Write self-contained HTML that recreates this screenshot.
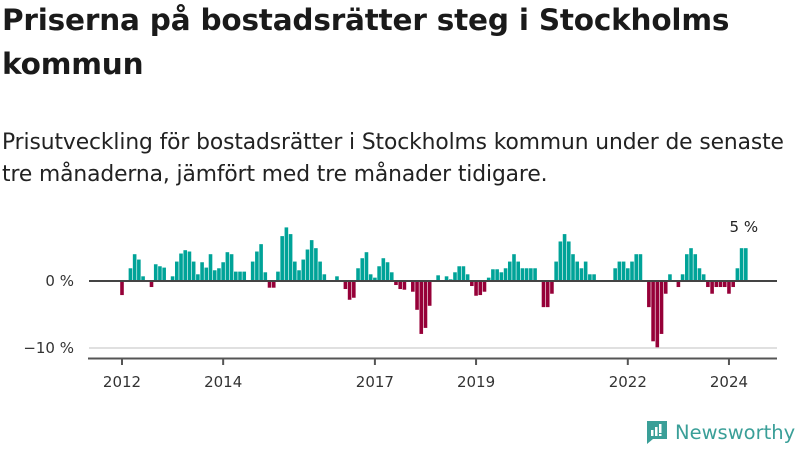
<!DOCTYPE html>
<html><head><meta charset="utf-8">
<style>
body{margin:0;background:#fff;width:800px;height:450px;overflow:hidden;font-family:"DejaVu Sans","Liberation Sans",sans-serif;color:#1a1a1a;position:relative}
h1{position:absolute;left:2px;top:-2px;margin:0;font-size:29.5px;line-height:44px;font-weight:bold;width:780px;letter-spacing:-0.2px}
p{position:absolute;left:2px;top:127px;margin:0;font-size:21.8px;line-height:32px;width:790px;color:#222;letter-spacing:-0.1px}
svg{position:absolute;left:0;top:0}
</style></head><body>
<h1>Priserna på bostadsrätter steg i Stockholms kommun</h1>
<p>Prisutveckling för bostadsrätter i Stockholms kommun under de senaste tre månaderna, jämfört med tre månader tidigare.</p>
<svg id="chart" width="800" height="450"></svg>
<div style="position:absolute;left:645px;top:419px;display:flex;align-items:center;">
<svg width="24" height="26" viewBox="0 0 24 26" style="position:static"><path d="M2 2h20v18H8l-6 5z" fill="#3a9f98"/><rect x="6" y="11" width="2.5" height="6" fill="#fff"/><rect x="10" y="8" width="2.5" height="9" fill="#fff"/><rect x="14" y="5" width="2.5" height="9" fill="#fff"/><rect x="14" y="15" width="2.5" height="2" fill="#fff"/></svg>
<span style="font-size:19.5px;color:#3a9f98;margin-left:6px">Newsworthy</span></div>
<script>
const months = [];
const values = [-2.1,0,1.9,4.0,3.2,0.7,0,-0.9,2.5,2.2,2.0,0,
0.7,2.9,4.1,4.6,4.4,2.9,1.0,2.8,2.0,4.0,1.6,1.9,
2.8,4.3,4.0,1.4,1.4,1.4,0,2.9,4.4,5.5,1.3,-1.0,
-1.0,1.4,6.7,8.0,7.0,2.9,1.6,3.2,4.7,6.1,4.9,2.9,
1.0,0,0,0.7,0,-1.2,-2.8,-2.5,1.9,3.4,4.3,1.0,
0.5,2.2,3.4,2.8,1.3,-0.6,-1.2,-1.3,-0.15,-1.6,-4.3,-7.9,
-7.0,-3.7,0,0.85,0,0.7,0.25,1.3,2.2,2.2,1.0,-0.75,
-2.2,-2.1,-1.6,0.5,1.75,1.75,1.3,1.9,2.9,4.0,2.9,1.9,
1.9,1.9,1.9,0,-3.9,-3.9,-1.9,2.9,5.9,7.0,5.9,4.0,
2.9,1.9,2.9,1.0,1.0,0,0,0,0,1.9,2.9,2.9,
1.9,2.9,4.0,4.0,0,-3.9,-9.0,-9.9,-7.9,-1.9,1.0,0,
-0.9,1.0,4.0,4.9,4.0,1.9,1.0,-0.9,-1.9,-0.9,-0.9,-0.9,
-1.9,-0.9,1.9,4.9,4.9];
for(let i=0;i<values.length;i++)months.push(i);
const tickYears=[2012,2014,2017,2019,2022,2024];
const yTicks=[0,-10];
const NS="http://www.w3.org/2000/svg";
const svg=document.getElementById('chart');
const FF='DejaVu Sans, Liberation Sans, sans-serif';
const x=m=>122+m*4.215;
const y=v=>281-v*6.7;
function mk(t,a){const e=document.createElementNS(NS,t);for(const k in a)e.setAttribute(k,a[k]);svg.appendChild(e);return e;}
let g=mk('line',{x1:89,x2:777,y1:y(-10),y2:y(-10),stroke:'#e0e0e0','stroke-width':2});


yTicks.forEach(v=>{const t=mk('text',{x:74,y:y(v)+5,'text-anchor':'end','font-size':15,fill:'#333','font-family':FF});t.textContent=(v<0?'\u2212'+(-v):v)+' %';

});
months.forEach((m,i)=>{const v=values[i];if(v===0)return;
const r=mk('rect',{x:x(m)-1.8,width:3.6,y:v>0?y(v):y(0),height:Math.abs(y(v)-y(0)),fill:v>0?'#00a398':'#960038'});

});
let z=mk('line',{x1:89,x2:777,y1:y(0),y2:y(0),stroke:'#444','stroke-width':2});


let ax=mk('line',{x1:88,x2:777,y1:358.5,y2:358.5,stroke:'#555','stroke-width':2});


tickYears.forEach(yr=>{const px=x((yr-2012)*12);
const tk=mk('line',{x1:px,x2:px,y1:358,y2:365,stroke:'#555','stroke-width':2});


const t=mk('text',{x:px,y:387,'text-anchor':'middle','font-size':15,fill:'#333','font-family':FF});t.textContent=yr;

});
const last=values.length-1;
const lab=mk('text',{x:x(last)-2,y:232,'text-anchor':'middle','font-size':15,fill:'#222','font-family':FF});
lab.textContent=Math.round(values[last])+' %';


</script>
</body></html>
